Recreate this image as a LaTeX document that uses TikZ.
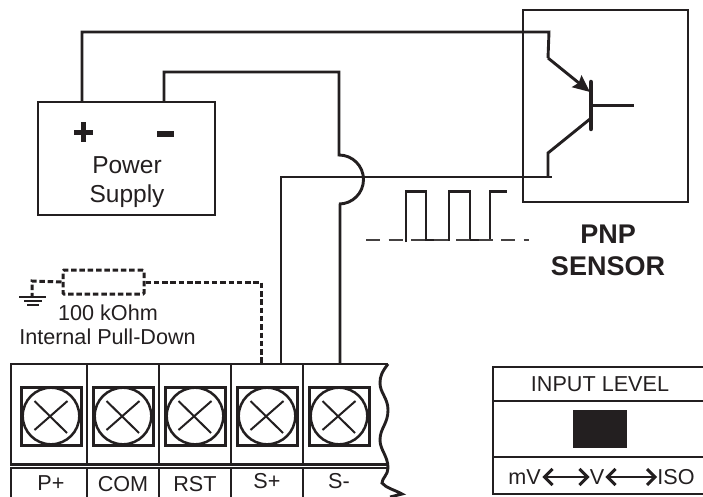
\documentclass[tikz,border=0pt]{standalone}
\usepackage{fontspec}
\setmainfont{Liberation Sans}
\usetikzlibrary{arrows.meta}
\definecolor{ink}{HTML}{231F20}
\tikzset{
  wire/.style={draw=ink,line width=2.9pt,line cap=butt,line join=miter},
  dashwire/.style={draw=ink,line width=3pt,dash pattern=on 5.5pt off 2.8pt},
  lbl/.style={text=ink,font=\fontsize{21.6}{24}\selectfont,inner sep=0pt,anchor=center},
  big/.style={text=ink,font=\fontsize{24.5}{29}\selectfont,inner sep=0pt,align=center},
  dbl/.style={draw=ink,line width=2.6pt,{Straight Barb[length=8pt,width=16pt,line width=3pt]}-{Straight Barb[length=8pt,width=16pt,line width=3pt]}}
}
\begin{document}
\begin{tikzpicture}[x=1pt,y=-1pt]
\useasboundingbox (0,0) rectangle (703,497);
% power supply
\coordinate (pstl) at (38,102); \coordinate (psbr) at (215,215);
\draw[wire] (pstl) rectangle (psbr);
\node[big] (pstext) at (127,182) {Power\\Supply};
\fill[ink] (74,130) rectangle (93,135.5);
\fill[ink] (80.7,122.5) rectangle (86,142);
\fill[ink] (157,131.5) rectangle (174,137);
% sensor
\draw[wire] (523,10) rectangle (688,202);
\node[text=ink,font=\bfseries\fontsize{27}{32}\selectfont,align=center,inner sep=0pt] (pnp) at (608,250) {PNP\\SENSOR};
% wires
\coordinate (plus) at (82,102); \coordinate (minus) at (164,102);
\coordinate (ce) at (548,58); \coordinate (eb) at (590,92);
\coordinate (cb) at (590,119); \coordinate (cc) at (548,153);
\coordinate (splus) at (281,364); \coordinate (sminus) at (340,364);
\draw[wire] (plus) |- (549,32) -- (ce);
\draw[wire,-{Stealth[length=17pt,width=15pt,inset=2.5pt]}] (ce) -- (eb);
\draw[wire] (cb) -- (cc) -- (548,177);
\draw[wire] (splus) |- (552,177);
\draw[line width=4.5pt,draw=ink,line cap=round] (591,82) -- (591,129);
\draw[wire,line width=3pt] (591,106) -- (634,106);
\draw[wire] (minus) |- (339,72) -- (339,155) arc[start angle=-90,end angle=90,radius=24.5] -- (340,204) -- (sminus);
% pulse
\draw[wire] (406,242) |- (426,191.5) |- (449,240) |- (470,191.5) |- (490,240) |- (507,191.5);
\draw[draw=ink!85,line width=2.8pt,dash pattern=on 14pt off 8.5pt] (366,240) -- (529,240);
% pull-down
\node[draw=ink,line width=3pt,dash pattern=on 5.5pt off 2.8pt,minimum width=81pt,minimum height=24pt,inner sep=0pt,rounded corners=1pt] (res) at (103.5,282) {};
\coordinate (gnd) at (32,297);
\draw[dashwire] (res.west) -- (32,281) -- (gnd);
\draw[dashwire] (res.east) -| (261,364);
\draw[ink,line width=2.4pt] (19,297) -- (46,297);
\draw[ink,line width=2.4pt] (24,301) -- (42,301);
\draw[ink,line width=2.4pt] (27,305) -- (39,305);
\node[lbl] (r1) at (108,313) {100 kOhm};
\node[lbl] (r2) at (107.5,337) {Internal Pull-Down};
% terminal block
\draw[wire] (388,364) -- (11,364) -- (11,464.5) -- (388,464.5);
\draw[wire] (388,468) -- (11,468) -- (11,497);
\draw[wire] (388,364) .. controls (382,372) and (380,376) .. (380,383) .. controls (380,393) and (388,398) .. (388,410) .. controls (388,424) and (380,428) .. (380,440) .. controls (380,450) and (388,456) .. (388,468) .. controls (388,475) and (382,478) .. (382,483) .. controls (386,488) and (395,490) .. (402,494) -- (390,497);
\foreach \i/\x in {1/87,2/159,3/231,4/303}{
  \draw[wire] (\x,364) -- (\x,464.5);
  \draw[wire] (\x,468) -- (\x,497);
}
\foreach \i/\x/\t/\ty in {1/51/P+/483,2/123/COM/484,3/195/RST/484,4/267/S+/481,5/339/S-/481}{
  \draw[ink,line width=3pt] (\x-30,387) rectangle (\x+30,445);
  \draw[ink,line width=2.5pt,fill=white] (\x,416) circle (28.3);
  \draw[ink,line width=2pt] (\x-16.5,430) -- (\x+16.5,401);
  \draw[ink,line width=2pt] (\x-16.5,401) -- (\x+16,433);
  \node[lbl] (t\i) at (\x,\ty) {\t};
}
% input level
\draw[wire] (703,367) -- (493,367) -- (493,494) -- (703,494);
\draw[wire] (493,401) -- (703,401);
\draw[wire] (493,457) -- (703,457);
\fill[ink] (573,410) rectangle (627,448);
\node[lbl] (il) at (600,384) {INPUT LEVEL};
\node[lbl] (mv) at (524.5,477) {mV};
\node[lbl] (v) at (597,477) {V};
\node[lbl] (iso) at (676,477) {ISO};
\draw[dbl] (mv.east) ++(1.5,0) -- (v.west);
\draw[dbl] (v.east) ++(1,0) -- (iso.west);
\end{tikzpicture}
\end{document}
